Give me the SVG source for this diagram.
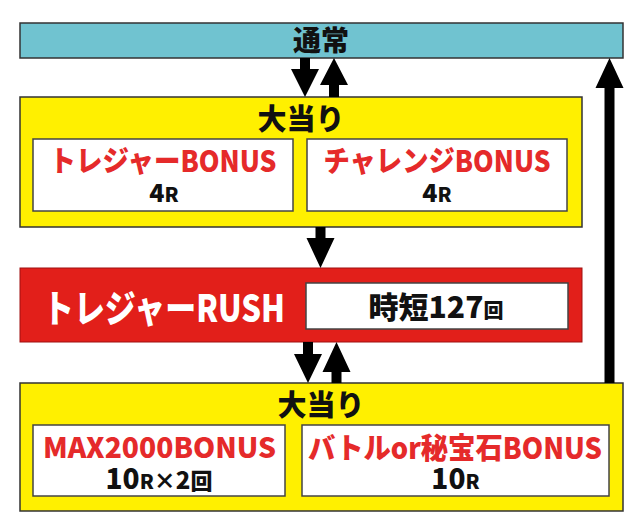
<svg xmlns="http://www.w3.org/2000/svg" width="640" height="532" viewBox="0 0 640 532">
<style>
.t{font-family:"Noto Sans CJK JP","Noto Sans",sans-serif;font-weight:900;text-anchor:middle}
.k{fill:#111}
.r{fill:#e52a2a}
.w{fill:#fff}
.yel{fill:#fff000;stroke:#333;stroke-width:1.5}
.wb{fill:#fff;stroke:#444;stroke-width:1.5}
.arrow{fill:#000}
</style>
<rect width="640" height="532" fill="#fff"/>
<g id="node-normal">
<rect x="20" y="23" width="603" height="35" fill="#70c3d0" stroke="#333" stroke-width="1.5"/>
<text class="t k" x="321" y="51" font-size="28">通常</text>
</g>
<g id="node-bonus1">
<rect class="yel" x="20" y="97" width="562" height="130"/>
<text class="t k" x="301" y="130" font-size="29">大当り</text>
<g id="node-treasure-bonus">
<rect class="wb" x="33" y="139" width="260" height="72"/>
<text class="t r" x="163" y="172" font-size="29" textLength="227" lengthAdjust="spacingAndGlyphs">トレジャーBONUS</text>
<text class="t k" x="164" y="202"><tspan font-size="25">4</tspan><tspan font-size="20">R</tspan></text>
</g>
<g id="node-challenge-bonus">
<rect class="wb" x="307" y="139" width="260" height="72"/>
<text class="t r" x="437" y="172" font-size="29" textLength="227" lengthAdjust="spacingAndGlyphs">チャレンジBONUS</text>
<text class="t k" x="437" y="202"><tspan font-size="25">4</tspan><tspan font-size="20">R</tspan></text>
</g>
</g>
<g id="node-rush">
<rect x="20" y="268" width="562" height="74" fill="#e21f1a" stroke="#a01010" stroke-width="1"/>
<text class="t w" x="164" y="322" font-size="38" textLength="242" lengthAdjust="spacingAndGlyphs">トレジャーRUSH</text>
<rect class="wb" x="306" y="283" width="262" height="46"/>
<text class="t k" x="436" y="318"><tspan font-size="30">時短127</tspan><tspan font-size="20">回</tspan></text>
</g>
<g id="node-bonus2">
<rect class="yel" x="20" y="383" width="603" height="128"/>
<text class="t k" x="321" y="416" font-size="29">大当り</text>
<g id="node-max-bonus">
<rect class="wb" x="33" y="425" width="252" height="71"/>
<text class="t r" x="159.5" y="458" font-size="28" textLength="233" lengthAdjust="spacingAndGlyphs">MAX2000BONUS</text>
<text class="t k" x="159" y="489"><tspan font-size="28">10</tspan><tspan font-size="20">R</tspan><tspan font-size="22">×</tspan><tspan font-size="24">2</tspan><tspan font-size="22">回</tspan></text>
</g>
<g id="node-battle-bonus">
<rect class="wb" x="302" y="425" width="307" height="71"/>
<text class="t r" x="455" y="459" font-size="29" textLength="294" lengthAdjust="spacingAndGlyphs">バトルor秘宝石BONUS</text>
<text class="t k" x="455.5" y="489"><tspan font-size="28">10</tspan><tspan font-size="20">R</tspan></text>
</g>
</g>
<g id="connectors">
<polygon class="arrow" points="300,58 310,58 310,69 319,69 305,97 291,69 300,69"/>
<polygon class="arrow" points="334,58 348,85 339,85 339,97 329,97 329,85 320,85"/>
<polygon class="arrow" points="315.5,227 325.5,227 325.5,238 334.5,238 320.5,268 306.5,238 315.5,238"/>
<polygon class="arrow" points="303,342 313,342 313,354 322,354 308,383 294,354 303,354"/>
<polygon class="arrow" points="336.5,342 350.5,372 341.5,372 341.5,383 331.5,383 331.5,372 322.5,372"/>
<polygon class="arrow" points="609.5,58 623.5,88 614.5,88 614.5,383 604.5,383 604.5,88 595.5,88"/>
</g>
</svg>
